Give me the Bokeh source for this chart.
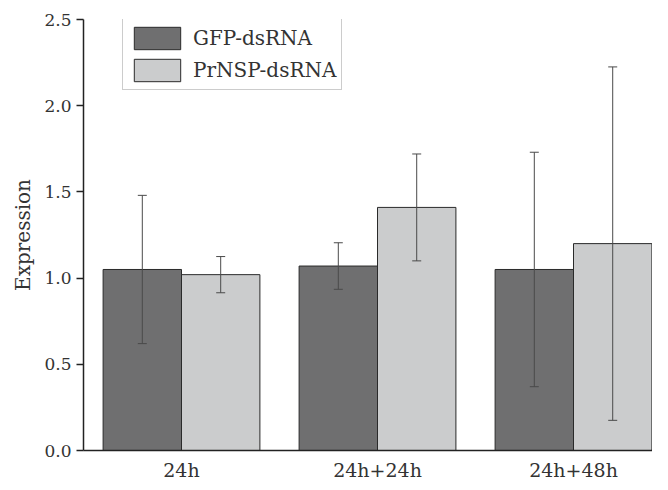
import numpy as np
from bokeh.plotting import figure
from bokeh.models import ColumnDataSource, Whisker, TeeHead, FixedTicker, Legend, LegendItem, Range1d
from bokeh.embed import file_html
from bokeh.resources import INLINE

categories = ["24h", "24h+24h", "24h+48h"]
series_names = ["GFP-dsRNA", "PrNSP-dsRNA"]
gfp_mean = [1.05, 1.07, 1.05]
gfp_err = [0.43, 0.135, 0.68]
prnsp_mean = [1.02, 1.41, 1.20]
prnsp_err = [0.105, 0.31, 1.025]
y_ticks = [0.0, 0.5, 1.0, 1.5, 2.0, 2.5]

colors = ["#6f6f70", "#cbcccd"]
bar_w = 0.4

p = figure(frame_width=569, frame_height=431, output_backend="svg", toolbar_location=None,
           x_range=Range1d(0, 2.903), y_range=Range1d(0, 2.5),
           min_border_left=83, min_border_top=19, min_border_bottom=24, min_border_right=0)
p.width = 652
p.height = 474

xs = np.arange(len(categories)) + 0.5
renderers = []
for i, (mean, err) in enumerate([(gfp_mean, gfp_err), (prnsp_mean, prnsp_err)]):
    off = (i - 0.5) * bar_w
    src = ColumnDataSource(dict(x=xs + off, top=mean,
                                upper=np.array(mean) + np.array(err),
                                lower=np.array(mean) - np.array(err)))
    r = p.vbar(x="x", top="top", width=bar_w, bottom=0, source=src,
               fill_color=colors[i], line_color="#2a2a2a", line_width=1)
    renderers.append(r)
    w = Whisker(base="x", upper="upper", lower="lower", source=src,
                line_color="#4a4a4a", line_width=1, level="overlay",
                upper_head=TeeHead(size=9, line_color="#4a4a4a", line_width=1),
                lower_head=TeeHead(size=9, line_color="#4a4a4a", line_width=1))
    p.add_layout(w)

font = "DejaVu Serif"
p.xgrid.visible = False
p.ygrid.visible = False
p.outline_line_color = None
p.background_fill_color = "white"
p.border_fill_color = "white"

p.yaxis.ticker = FixedTicker(ticks=y_ticks)
p.yaxis.major_label_overrides = {t: f"{t:.1f}" for t in y_ticks}
p.yaxis.minor_tick_line_color = None
p.yaxis.major_tick_in = 0
p.yaxis.major_tick_out = 7
p.yaxis.axis_line_color = "#222222"
p.yaxis.axis_line_width = 1.5
p.yaxis.major_tick_line_color = "#222222"
p.yaxis.major_tick_line_width = 1.5
p.yaxis.major_label_text_font = font
p.yaxis.major_label_text_font_size = "17px"
p.yaxis.major_label_text_color = "#333333"
p.yaxis.major_label_standoff = 5
p.yaxis.axis_label = "Expression"
p.yaxis.axis_label_text_font = font
p.yaxis.axis_label_text_font_size = "20px"
p.yaxis.axis_label_text_font_style = "normal"
p.yaxis.axis_label_text_color = "#333333"
p.yaxis.axis_label_standoff = 6

p.xaxis.ticker = FixedTicker(ticks=list(xs))
p.xaxis.major_label_overrides = {float(x): c for x, c in zip(xs, categories)}
p.xaxis.major_tick_line_color = None
p.xaxis.minor_tick_line_color = None
p.xaxis.axis_line_color = "#222222"
p.xaxis.axis_line_width = 1.5
p.xaxis.major_label_text_font = font
p.xaxis.major_label_text_font_size = "19px"
p.xaxis.major_label_text_color = "#333333"
p.xaxis.major_label_standoff = 2

legend = Legend(items=[LegendItem(label=series_names[i], renderers=[renderers[i]]) for i in range(2)],
                location=(39, 360))
legend.glyph_width = 58
legend.glyph_height = 28
legend.spacing = 4
legend.padding = 5
legend.margin = 0
legend.label_standoff = 7
legend.label_text_font = font
legend.label_text_font_size = "20px"
legend.label_text_color = "#333333"
legend.border_line_color = "#999999"
legend.border_line_width = 1
legend.background_fill_alpha = 1
p.add_layout(legend, "center")

open("out.html", "w").write(file_html(p, INLINE))
